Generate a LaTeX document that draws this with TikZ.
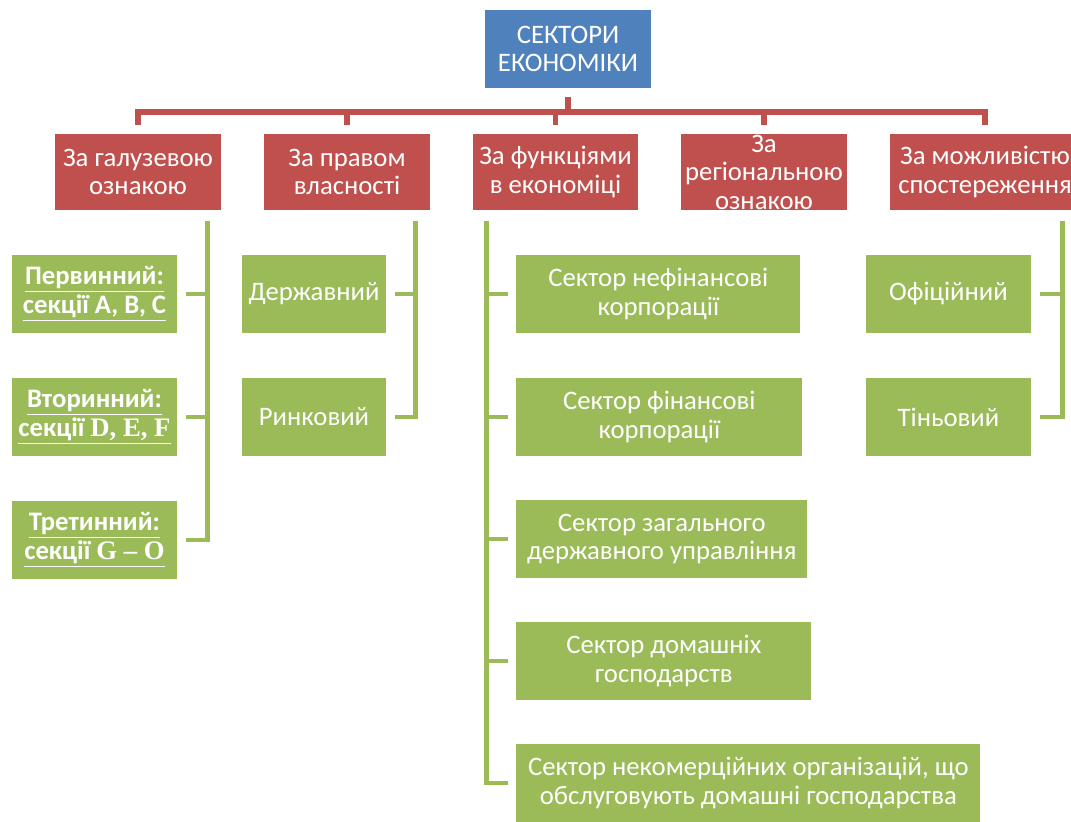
\documentclass[tikz,border=0pt]{standalone}
\usepackage{fontspec}
\setmainfont{Carlito}
\newfontfamily\latserif{Liberation Serif}
\definecolor{rootblue}{HTML}{4F81BD}
\definecolor{catred}{HTML}{C0504D}
\definecolor{leafgreen}{HTML}{9BBB59}
\begin{document}
\begin{tikzpicture}[x=0.02cm, y=-0.02cm,
		box/.style={inner sep=2pt, align=center, text=white, font=\fontsize{15.2}{16.2}\selectfont},
		rootbox/.style={box, fill=rootblue, minimum width=3.32cm, minimum height=1.56cm},
		catbox/.style={box, fill=catred, minimum width=3.32cm, minimum height=1.54cm},
		leafbox/.style={box, fill=leafgreen, minimum height=1.56cm},
		boldbox/.style={leafbox, minimum width=3.3cm, font=\fontsize{15.2}{16.2}\selectfont\bfseries},
		redline/.style={catred, line width=2.9pt},
		greenline/.style={leafgreen, line width=2.8pt, shorten <=0.2cm, shorten >=0.17cm}]
		\useasboundingbox (0,0) rectangle (1071,821);
		\clip (0,0) rectangle (1071,821);
		\node[rootbox] (root) at (568,49) {СЕКТОРИ\\ЕКОНОМІКИ};
		\node[catbox] (cat1) at (138,172) {За галузевою\\ознакою};
		\node[catbox] (cat2) at (347,172) {За правом\\власності};
		\node[catbox] (cat3) at (555.5,172) {За функціями\\в економіці};
		\node[catbox, label={[box]center:За\\регіональною\\ознакою}] (cat4) at (764,172) {};
		\node[catbox, minimum width=3.8cm] (cat5) at (985,172) {За можливістю\\спостереження};
		\coordinate (bar) at (568,112);
		\draw[redline, shorten <=0.18cm] (root.south) -- (bar);
		\foreach \c in {cat1,cat2,cat3,cat4,cat5}
			\draw[redline, shorten >=0.16cm] (bar) -| (\c.north);
		% by branch of industry
		\node[boldbox] (prim) at (94.5,294) {\underline{Первинний:}\\\underline{секції A, B, C}};
		\node[boldbox] (sec) at (94.5,417) {\underline{Вторинний:}\\\underline{секції {\latserif D, E, F}}};
		\node[boldbox] (ter) at (94.5,540) {\underline{Третинний:}\\\underline{секції {\latserif G – O}}};
		\foreach \l in {prim,sec,ter}
			\draw[greenline] ([xshift=-0.28cm]cat1.south east) |- (\l.east);
		% by ownership
		\node[leafbox, minimum width=2.88cm] (state) at (314,294) {Державний};
		\node[leafbox, minimum width=2.88cm] (market) at (314,417) {Ринковий};
		\foreach \l in {state,market}
			\draw[greenline] ([xshift=-0.3cm]cat2.south east) |- (\l.east);
		% by function
		\node[leafbox, anchor=west, minimum width=5.68cm] (nonfin) at (516,294) {Сектор нефінансові\\корпорації};
		\node[leafbox, anchor=west, minimum width=5.72cm] (fin) at (516,417) {Сектор фінансові\\корпорації};
		\node[leafbox, anchor=west, minimum width=5.82cm] (gov) at (516,539) {Сектор загального\\державного управління};
		\node[leafbox, anchor=west, minimum width=5.9cm] (house) at (516,661) {Сектор домашніх\\господарств};
		\node[leafbox, anchor=west, minimum width=9.28cm] (npish) at (516,783) {Сектор некомерційних організацій, що\\обслуговують домашні господарства};
		\foreach \l in {nonfin,fin,gov,house,npish}
			\draw[greenline] ([xshift=0.28cm]cat3.south west) |- (\l.west);
		% by observability
		\node[leafbox, minimum width=3.3cm] (official) at (948.5,294) {Офіційний};
		\node[leafbox, minimum width=3.3cm] (shadow) at (948.5,417) {Тіньовий};
		\foreach \l in {official,shadow}
			\draw[greenline] ([xshift=-0.36cm]cat5.south east) |- (\l.east);
	\end{tikzpicture}
\end{document}
